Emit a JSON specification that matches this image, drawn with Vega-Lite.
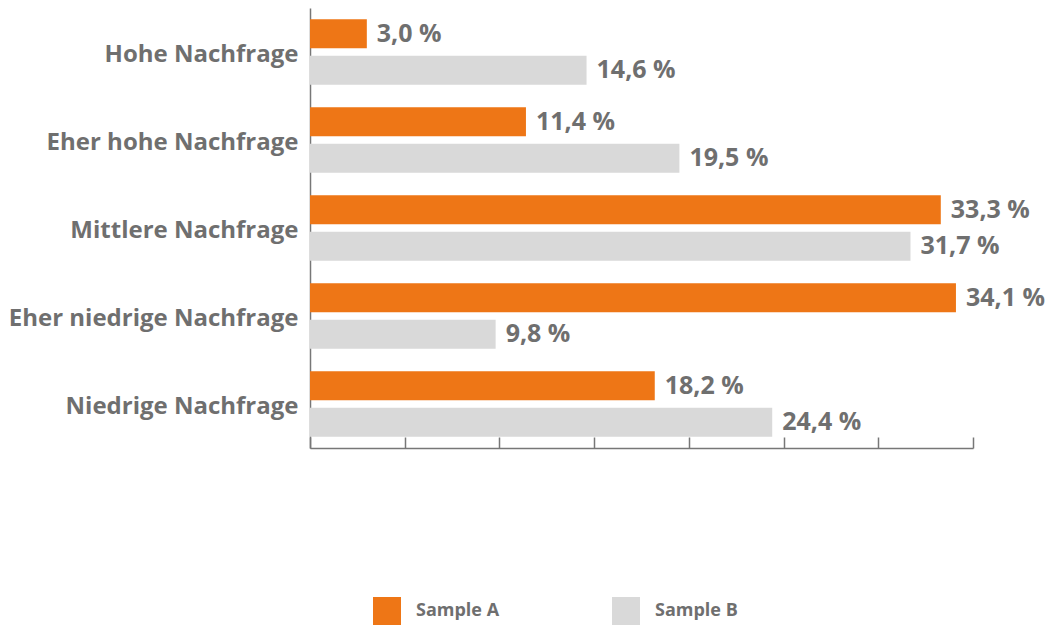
{
  "$schema": "https://vega.github.io/schema/vega-lite/v6.json",
  "autosize": {"type": "none"},
  "padding": {"left": 310, "top": 8, "right": 84, "bottom": 177},
  "width": 663,
  "height": 440,
  "background": "#ffffff",
  "config": {
    "view": {"stroke": null},
    "font": "Open Sans"
  },
  "data": {
    "values": [
      {"cat": "Hohe Nachfrage", "series": "Sample A", "value": 3.0, "label": "3,0 %"},
      {"cat": "Hohe Nachfrage", "series": "Sample B", "value": 14.6, "label": "14,6 %"},
      {"cat": "Eher hohe Nachfrage", "series": "Sample A", "value": 11.4, "label": "11,4 %"},
      {"cat": "Eher hohe Nachfrage", "series": "Sample B", "value": 19.5, "label": "19,5 %"},
      {"cat": "Mittlere Nachfrage", "series": "Sample A", "value": 33.3, "label": "33,3 %"},
      {"cat": "Mittlere Nachfrage", "series": "Sample B", "value": 31.7, "label": "31,7 %"},
      {"cat": "Eher niedrige Nachfrage", "series": "Sample A", "value": 34.1, "label": "34,1 %"},
      {"cat": "Eher niedrige Nachfrage", "series": "Sample B", "value": 9.8, "label": "9,8 %"},
      {"cat": "Niedrige Nachfrage", "series": "Sample A", "value": 18.2, "label": "18,2 %"},
      {"cat": "Niedrige Nachfrage", "series": "Sample B", "value": 24.4, "label": "24,4 %"}
    ]
  },
  "encoding": {
    "y": {
      "field": "cat", "type": "nominal", "sort": null,
      "scale": {"paddingInner": 0, "paddingOuter": 0},
      "axis": {
        "title": null, "ticks": false, "labelFontSize": 24, "labelFontWeight": "bold",
        "labelColor": "#6f6f6f", "labelPadding": 12, "labelLimit": 400, "labelOffset": 3,
        "domainColor": "#777777", "domainWidth": 1.5, "grid": false
      }
    },
    "yOffset": {
      "field": "series", "type": "nominal",
      "scale": {"paddingInner": 0.205, "paddingOuter": 0.308}
    },
    "x": {
      "field": "value", "type": "quantitative",
      "scale": {"domain": [0, 35], "nice": false, "zero": true},
      "axis": {
        "title": null, "labels": false, "grid": false, "values": [0, 5, 10, 15, 20, 25, 30, 35],
        "tickSize": -11, "tickColor": "#777777", "tickWidth": 1.5,
        "domainColor": "#777777", "domainWidth": 1.5
      }
    }
  },
  "layer": [
    {
      "mark": {"type": "bar"},
      "encoding": {
        "color": {
          "field": "series", "type": "nominal",
          "scale": {"domain": ["Sample A", "Sample B"], "range": ["#ee7616", "#d9d9d9"]},
          "legend": {
            "title": null, "orient": "none", "legendX": 63, "legendY": 589,
            "direction": "horizontal", "symbolType": "square", "symbolSize": 784,
            "symbolStrokeWidth": 0, "labelFontSize": 18, "labelFontWeight": "bold",
            "labelColor": "#6f6f6f", "labelOffset": 15, "columnPadding": 112, "padding": 0
          }
        }
      }
    },
    {
      "mark": {"type": "text", "align": "left", "baseline": "middle", "dx": 10, "fontSize": 25, "fontWeight": "bold", "color": "#6f6f6f"},
      "encoding": {"text": {"field": "label"}}
    }
  ]
}
